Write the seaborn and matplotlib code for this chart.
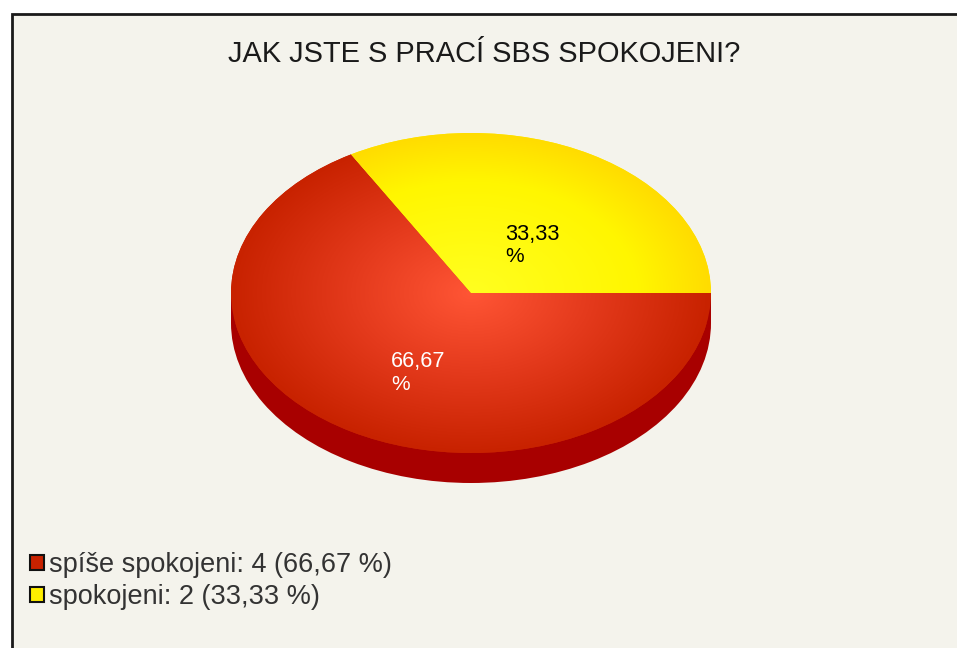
import numpy as np
import seaborn as sns
import matplotlib
matplotlib.use("Agg")
import matplotlib.pyplot as plt
from matplotlib.colors import LinearSegmentedColormap
from matplotlib.patches import Patch, Rectangle

# Data
categories = ["spíše spokojeni", "spokojeni"]
counts = [4, 2]
percents = [66.67, 33.33]
title = "JAK JSTE S PRACÍ SBS SPOKOJENI?"

W, H = 957, 648
BG = "#f4f3ec"

sns.set_theme(style="white")
plt.rcParams["font.family"] = ["Liberation Sans", "DejaVu Sans"]
palette = sns.color_palette(["#c82200", "#ffee00"])


def px(x, y):
    return x / W, 1 - y / H


fig = plt.figure(figsize=(W / 100, H / 100), dpi=100, facecolor="white")

# panel with dark left and top edge
fig.add_artist(Rectangle(px(11.5, 655), (W - 11.5 + 5) / W, (655 - 13.5) / H,
                         transform=fig.transFigure, facecolor=BG,
                         edgecolor="#1a1a1a", linewidth=2, zorder=-1))

# pie, squashed by the axes shape
cx, cy, rx, ry, depth = 471, 293, 240, 160, 30
ax = fig.add_axes([(cx - rx) / W, 1 - (cy + ry) / H, 2 * rx / W, 2 * ry / H])
d = depth / ry
flat = dict(linewidth=0, edgecolor="none")
ax.pie(counts, startangle=120, radius=1, center=(0, -d),
       colors=["#a80000", "#a80000"], frame=True, wedgeprops=flat)
ax.add_patch(Rectangle((-1, -d), 2, d, facecolor="#a80000", edgecolor="none", zorder=1.5))
wedges, _ = ax.pie(counts, startangle=120, radius=1, colors=palette, frame=True, wedgeprops=flat)

# radial shading on each slice
yy, xx = np.mgrid[-1:1:400j, -1:1:600j]
rr = np.sqrt(xx ** 2 + yy ** 2)
shades = [[(0, "#ff5535"), (0.5, "#e43a1c"), (1, "#c82200")],
          [(0, "#ffff20"), (0.7, "#fff600"), (1, "#ffdc00")]]
for wedge, shade in zip(wedges, shades):
    cmap = LinearSegmentedColormap.from_list("shade", shade)
    im = ax.imshow(rr, extent=(-1, 1, -1, 1), origin="lower", cmap=cmap, vmin=0, vmax=1,
                   aspect="auto", zorder=3, interpolation="bilinear")
    im.set_clip_path(wedge)

ax.set_xlim(-1, 1)
ax.set_ylim(-1, 1)
ax.set_aspect("auto")
ax.axis("off")
for p in ax.patches:
    p.set_clip_on(False)

fig.text(*px(484, 54), title, fontsize=20.9, color="#1a1a1a", ha="center", va="center")

# value labels inside the slices
fmt = [f"{p:.2f}".replace(".", ",") for p in percents]
for s, (x, y), c in zip(fmt, [(391, 362), (505, 234)], ["white", "black"]):
    fig.text(*px(x, y), s, fontsize=15.7, color=c, ha="left", va="center")
    fig.text(*px(x, y + 23), "%", fontsize=15, color=c, ha="left", va="center")

# legend
handles = [Patch(facecolor=c, edgecolor="#111111", linewidth=1.5) for c in palette]
labels = [f"{n}: {v} ({s} %)" for n, v, s in zip(categories, counts, fmt)]
fig.legend(handles, labels, loc="upper left", bbox_to_anchor=px(11, 533), frameon=False,
           fontsize=19.5, labelcolor="#333333", handlelength=0.5, handleheight=0.5,
           handletextpad=0.22, labelspacing=0.225, borderpad=0.2)

plt.savefig("out.png", dpi=100, facecolor=fig.get_facecolor())
